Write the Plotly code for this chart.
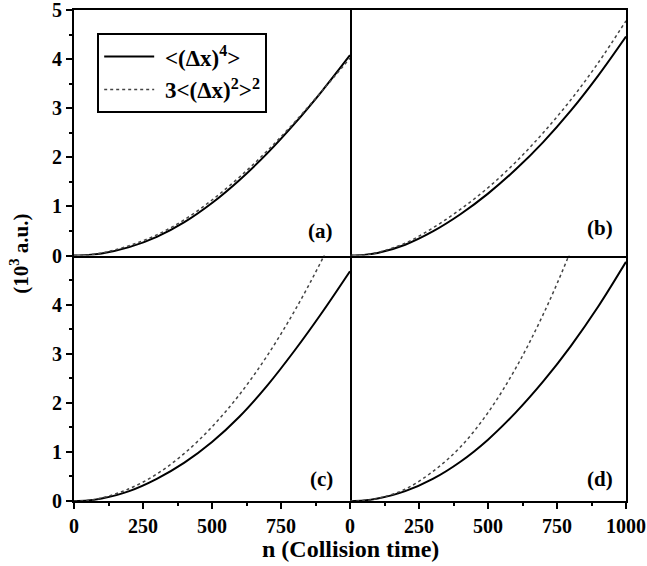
import plotly.graph_objects as go
from plotly.subplots import make_subplots

# collision time
n = [0, 50, 100, 200, 300, 400, 500, 600, 700, 800, 900, 1000]

# values in 10^3 a.u.
a_solid  = [0, 0.01, 0.04, 0.17, 0.38, 0.68, 1.07, 1.54, 2.08, 2.69, 3.36, 4.08]
a_dotted = [0, 0.01, 0.05, 0.20, 0.42, 0.73, 1.13, 1.60, 2.13, 2.72, 3.36, 4.02]
b_solid  = [0, 0.01, 0.05, 0.22, 0.49, 0.84, 1.26, 1.75, 2.31, 2.95, 3.67, 4.46]
b_dotted = [0, 0.01, 0.06, 0.25, 0.56, 0.94, 1.38, 1.90, 2.50, 3.17, 3.93, 4.78]
c_solid  = [0, 0.01, 0.05, 0.20, 0.45, 0.78, 1.20, 1.72, 2.35, 3.07, 3.85, 4.68]
c_dotted = [0, 0.01, 0.06, 0.25, 0.55, 0.97, 1.51, 2.17, 2.96, 3.88, 4.93, 6.11]
d_solid  = [0, 0.01, 0.05, 0.20, 0.45, 0.80, 1.25, 1.80, 2.435, 3.155, 3.965, 4.87]
d_dotted = [0, 0.01, 0.05, 0.24, 0.60, 1.10, 1.80, 2.70, 3.80, 5.10, 6.60, 8.30]

labels = ["(a)", "(b)", "(c)", "(d)"]
legend_names = ["\u00a0&lt;(Δx)<sup>4</sup>&gt;", "\u00a03&lt;(Δx)<sup>2</sup>&gt;<sup>2</sup>"]

FONT = "Liberation Serif"
BOLD = dict(family=FONT, color="black", weight="bold")

fig = make_subplots(rows=2, cols=2, horizontal_spacing=0, vertical_spacing=0)

panels = [(1, 1, a_solid, a_dotted), (1, 2, b_solid, b_dotted),
          (2, 1, c_solid, c_dotted), (2, 2, d_solid, d_dotted)]
for i, (r, c, s, d) in enumerate(panels):
    fig.add_trace(go.Scatter(x=n, y=s, mode="lines", name=legend_names[0],
                             line=dict(color="black", width=2, shape="spline", smoothing=1.0),
                             showlegend=(i == 0)), row=r, col=c)
    fig.add_trace(go.Scatter(x=n, y=d, mode="lines", name=legend_names[1],
                             line=dict(color="#444444", width=1.5, dash="dot", shape="spline", smoothing=1.0),
                             showlegend=(i == 0)), row=r, col=c)

base = dict(showline=True, linecolor="black", linewidth=2, showgrid=False, zeroline=False,
            automargin=False, ticklabeloverflow="allow", tickfont=dict(size=20, **BOLD))
tick_style = dict(ticks="outside", ticklen=6, tickwidth=1.5, tickcolor="black")

# x axes: top row draws both its bottom and top lines; bottom row only its bottom line
for c in (1, 2):
    fig.update_xaxes(range=[0, 1000], showticklabels=False, ticks="", mirror=True, **base, row=1, col=c)
fig.update_xaxes(range=[0, 1000], tickvals=[0, 250, 500, 750], mirror=False,
                 minor=dict(ticks="outside", ticklen=3, tickvals=[125, 375, 625, 875], tickcolor="black"),
                 **tick_style, **base, row=2, col=1)
fig.update_xaxes(range=[0, 1000], tickvals=[0, 250, 500, 750, 1000], mirror=False,
                 minor=dict(ticks="outside", ticklen=3, tickvals=[125, 375, 625, 875], tickcolor="black"),
                 **tick_style, **base, row=2, col=2)
# y axes: left column draws left + right lines; right column only its right line
fig.update_yaxes(range=[0, 5], tickvals=[0, 1, 2, 3, 4, 5], mirror=True,
                 minor=dict(ticks="outside", ticklen=3, tickvals=[0.5, 1.5, 2.5, 3.5, 4.5], tickcolor="black"),
                 **tick_style, **base, row=1, col=1)
fig.update_yaxes(range=[0, 5], tickvals=[0, 1, 2, 3, 4], mirror=True,
                 minor=dict(ticks="outside", ticklen=3, tickvals=[0.5, 1.5, 2.5, 3.5, 4.5], tickcolor="black"),
                 **tick_style, **base, row=2, col=1)
for r in (1, 2):
    fig.update_yaxes(range=[0, 5], showticklabels=False, ticks="", side="right", mirror=False,
                     **base, row=r, col=2)

# panel labels
label_pos = [("x domain", "y domain", 0.945, 0.098), ("x2 domain", "y2 domain", 0.96, 0.11),
             ("x3 domain", "y3 domain", 0.945, 0.09), ("x4 domain", "y4 domain", 0.96, 0.09)]
for lab, (xr, yr, xx, yy) in zip(labels, label_pos):
    fig.add_annotation(text=lab, xref=xr, yref=yr, x=xx, y=yy, xanchor="right", yanchor="middle",
                       showarrow=False, font=dict(size=21, **BOLD))

# axis titles
fig.add_annotation(text="n (Collision time)", xref="paper", yref="paper", x=0.5, y=-0.098,
                   xanchor="center", yanchor="middle", showarrow=False,
                   font=dict(size=24, **BOLD))
fig.add_annotation(text="(10<sup>3</sup> a.u.)", xref="paper", yref="paper", x=-0.1, y=0.503,
                   xanchor="center", yanchor="middle", textangle=-90, showarrow=False,
                   font=dict(size=21, **BOLD))

fig.update_layout(
    width=647, height=566,
    margin=dict(l=74, r=21, t=10, b=65, autoexpand=False),
    paper_bgcolor="white", plot_bgcolor="white",
    font=dict(size=20, **BOLD),
    legend=dict(x=0.042, y=0.953, xanchor="left", yanchor="top",
                bordercolor="black", borderwidth=2, bgcolor="white",
                font=dict(size=23, **BOLD), itemwidth=50,
                tracegroupgap=0),
)

fig.write_html("out.html")
